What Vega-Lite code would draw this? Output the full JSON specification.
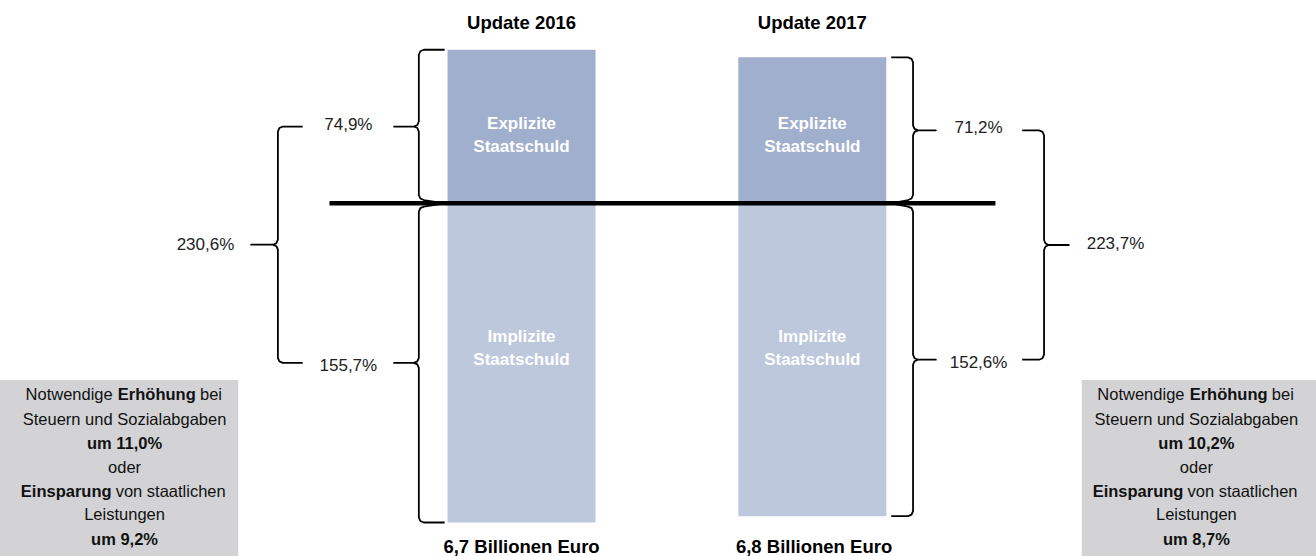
{
  "$schema": "https://vega.github.io/schema/vega-lite/v6.json",
  "width": 1316,
  "height": 556,
  "padding": 0,
  "autosize": {"type": "none"},
  "background": "white",
  "config": {"view": {"stroke": null}, "font": "Liberation Sans"},
  "datasets": {
    "bars": [
      {"year": 2016, "debt": "Explizite Staatschuld", "value": 74.9},
      {"year": 2016, "debt": "Implizite Staatschuld", "value": -155.7},
      {"year": 2017, "debt": "Explizite Staatschuld", "value": 71.2},
      {"year": 2017, "debt": "Implizite Staatschuld", "value": -152.6}
    ],
    "zeroline": [{"x": 2015.3396, "x2": 2017.6297, "y": 0}],
    "boxes": [
      {"x": 2014.2, "x2": 2015.0256, "y": -86.2, "y2": -175},
      {"x": 2017.9266, "x2": 2018.74, "y": -86.2, "y2": -175}
    ],
    "braces": [
      {"brace": "A", "i": 1, "x": 2015.7355, "y": 74.9},
      {"brace": "A", "i": 2, "x": 2015.6639, "y": 74.9},
      {"brace": "A", "i": 3, "x": 2015.6519, "y": 74.17},
      {"brace": "A", "i": 4, "x": 2015.6468, "y": 72.46},
      {"brace": "A", "i": 5, "x": 2015.6468, "y": 39.89},
      {"brace": "A", "i": 6, "x": 2015.6417, "y": 38.18},
      {"brace": "A", "i": 7, "x": 2015.6297, "y": 37.45},
      {"brace": "A", "i": 8, "x": 2015.5614, "y": 37.45},
      {"brace": "A", "i": 9, "x": 2015.6297, "y": 37.45},
      {"brace": "A", "i": 10, "x": 2015.6417, "y": 36.72},
      {"brace": "A", "i": 11, "x": 2015.6468, "y": 35.01},
      {"brace": "A", "i": 12, "x": 2015.6468, "y": 4.04},
      {"brace": "A", "i": 13, "x": 2015.6519, "y": 2.33},
      {"brace": "A", "i": 14, "x": 2015.6639, "y": 1.6},
      {"brace": "A", "i": 15, "x": 2015.7355, "y": 0},
      {"brace": "B", "i": 1, "x": 2015.7355, "y": 0},
      {"brace": "B", "i": 2, "x": 2015.6639, "y": -1.6},
      {"brace": "B", "i": 3, "x": 2015.6519, "y": -2.33},
      {"brace": "B", "i": 4, "x": 2015.6468, "y": -4.04},
      {"brace": "B", "i": 5, "x": 2015.6468, "y": -75.41},
      {"brace": "B", "i": 6, "x": 2015.6417, "y": -77.12},
      {"brace": "B", "i": 7, "x": 2015.6297, "y": -77.85},
      {"brace": "B", "i": 8, "x": 2015.5614, "y": -77.85},
      {"brace": "B", "i": 9, "x": 2015.6297, "y": -77.85},
      {"brace": "B", "i": 10, "x": 2015.6417, "y": -78.58},
      {"brace": "B", "i": 11, "x": 2015.6468, "y": -80.29},
      {"brace": "B", "i": 12, "x": 2015.6468, "y": -153.26},
      {"brace": "B", "i": 13, "x": 2015.6519, "y": -154.97},
      {"brace": "B", "i": 14, "x": 2015.6639, "y": -155.7},
      {"brace": "B", "i": 15, "x": 2015.7355, "y": -155.7},
      {"brace": "C", "i": 1, "x": 2015.2474, "y": 37.45},
      {"brace": "C", "i": 2, "x": 2015.1792, "y": 37.45},
      {"brace": "C", "i": 3, "x": 2015.1672, "y": 36.72},
      {"brace": "C", "i": 4, "x": 2015.1621, "y": 35.01},
      {"brace": "C", "i": 5, "x": 2015.1621, "y": -17.76},
      {"brace": "C", "i": 6, "x": 2015.157, "y": -19.47},
      {"brace": "C", "i": 7, "x": 2015.145, "y": -20.2},
      {"brace": "C", "i": 8, "x": 2015.07, "y": -20.2},
      {"brace": "C", "i": 9, "x": 2015.145, "y": -20.2},
      {"brace": "C", "i": 10, "x": 2015.157, "y": -20.93},
      {"brace": "C", "i": 11, "x": 2015.1621, "y": -22.64},
      {"brace": "C", "i": 12, "x": 2015.1621, "y": -75.41},
      {"brace": "C", "i": 13, "x": 2015.1672, "y": -77.12},
      {"brace": "C", "i": 14, "x": 2015.1792, "y": -77.85},
      {"brace": "C", "i": 15, "x": 2015.2474, "y": -77.85},
      {"brace": "D", "i": 1, "x": 2017.2713, "y": 71.2},
      {"brace": "D", "i": 2, "x": 2017.3293, "y": 71.2},
      {"brace": "D", "i": 3, "x": 2017.3413, "y": 70.47},
      {"brace": "D", "i": 4, "x": 2017.3464, "y": 68.76},
      {"brace": "D", "i": 5, "x": 2017.3464, "y": 38.04},
      {"brace": "D", "i": 6, "x": 2017.3515, "y": 36.33},
      {"brace": "D", "i": 7, "x": 2017.3635, "y": 35.6},
      {"brace": "D", "i": 8, "x": 2017.4249, "y": 35.6},
      {"brace": "D", "i": 9, "x": 2017.3635, "y": 35.6},
      {"brace": "D", "i": 10, "x": 2017.3515, "y": 34.87},
      {"brace": "D", "i": 11, "x": 2017.3464, "y": 33.16},
      {"brace": "D", "i": 12, "x": 2017.3464, "y": 4.04},
      {"brace": "D", "i": 13, "x": 2017.3413, "y": 2.33},
      {"brace": "D", "i": 14, "x": 2017.3293, "y": 1.6},
      {"brace": "D", "i": 15, "x": 2017.2713, "y": 0},
      {"brace": "E", "i": 1, "x": 2017.2713, "y": 0},
      {"brace": "E", "i": 2, "x": 2017.3293, "y": -1.6},
      {"brace": "E", "i": 3, "x": 2017.3413, "y": -2.33},
      {"brace": "E", "i": 4, "x": 2017.3464, "y": -4.04},
      {"brace": "E", "i": 5, "x": 2017.3464, "y": -73.86},
      {"brace": "E", "i": 6, "x": 2017.3515, "y": -75.57},
      {"brace": "E", "i": 7, "x": 2017.3635, "y": -76.3},
      {"brace": "E", "i": 8, "x": 2017.4249, "y": -76.3},
      {"brace": "E", "i": 9, "x": 2017.3635, "y": -76.3},
      {"brace": "E", "i": 10, "x": 2017.3515, "y": -77.03},
      {"brace": "E", "i": 11, "x": 2017.3464, "y": -78.74},
      {"brace": "E", "i": 12, "x": 2017.3464, "y": -150.16},
      {"brace": "E", "i": 13, "x": 2017.3413, "y": -151.87},
      {"brace": "E", "i": 14, "x": 2017.3293, "y": -152.6},
      {"brace": "E", "i": 15, "x": 2017.2713, "y": -152.6},
      {"brace": "F", "i": 1, "x": 2017.7218, "y": 35.6},
      {"brace": "F", "i": 2, "x": 2017.7798, "y": 35.6},
      {"brace": "F", "i": 3, "x": 2017.7918, "y": 34.87},
      {"brace": "F", "i": 4, "x": 2017.7969, "y": 33.16},
      {"brace": "F", "i": 5, "x": 2017.7969, "y": -17.91},
      {"brace": "F", "i": 6, "x": 2017.802, "y": -19.62},
      {"brace": "F", "i": 7, "x": 2017.814, "y": -20.35},
      {"brace": "F", "i": 8, "x": 2017.8823, "y": -20.35},
      {"brace": "F", "i": 9, "x": 2017.814, "y": -20.35},
      {"brace": "F", "i": 10, "x": 2017.802, "y": -21.08},
      {"brace": "F", "i": 11, "x": 2017.7969, "y": -22.79},
      {"brace": "F", "i": 12, "x": 2017.7969, "y": -73.86},
      {"brace": "F", "i": 13, "x": 2017.7918, "y": -75.57},
      {"brace": "F", "i": 14, "x": 2017.7798, "y": -76.3},
      {"brace": "F", "i": 15, "x": 2017.7218, "y": -76.3}
    ],
    "labels": [
      {"x": 2016, "y": 88, "text": "Update 2016", "kind": "title"},
      {"x": 2017, "y": 88, "text": "Update 2017", "kind": "title"},
      {"x": 2016, "y": -167.9, "text": "6,7 Billionen Euro", "kind": "title"},
      {"x": 2017.006, "y": -167.9, "text": "6,8 Billionen Euro", "kind": "title"},
      {"x": 2015.4044, "y": 38.2, "text": "74,9%", "kind": "pct"},
      {"x": 2015.4044, "y": -79.4, "text": "155,7%", "kind": "pct"},
      {"x": 2014.913, "y": -20.4, "text": "230,6%", "kind": "pct"},
      {"x": 2017.5717, "y": 36.7, "text": "71,2%", "kind": "pct"},
      {"x": 2017.5717, "y": -77.9, "text": "152,6%", "kind": "pct"},
      {"x": 2018.0427, "y": -19.9, "text": "223,7%", "kind": "pct"},
      {"x": 2016, "y": 38.9, "text": "Explizite\nStaatschuld", "kind": "bar"},
      {"x": 2017, "y": 38.9, "text": "Explizite\nStaatschuld", "kind": "bar"},
      {"x": 2016, "y": -65.2, "text": "Implizite\nStaatschuld", "kind": "bar"},
      {"x": 2017, "y": -65.2, "text": "Implizite\nStaatschuld", "kind": "bar"}
    ],
    "boxtext": [
      {"x": 2014.5939, "y": -93.5, "text": "Notwendige", "role": "lead"},
      {"x": 2014.7457, "y": -93.5, "text": "Erhöhung", "role": "key"},
      {"x": 2014.8942, "y": -93.5, "text": "bei", "role": "tail"},
      {"x": 2014.6348, "y": -105.7, "text": "Steuern und Sozialabgaben", "role": "line"},
      {"x": 2014.6348, "y": -117.4, "text": "um 11,0%", "role": "amount"},
      {"x": 2014.6348, "y": -129.1, "text": "oder", "role": "line"},
      {"x": 2014.4341, "y": -140.8, "text": "Einsparung", "role": "key"},
      {"x": 2014.6041, "y": -140.8, "text": "von staatlichen", "role": "tail"},
      {"x": 2014.6348, "y": -152.0, "text": "Leistungen", "role": "line"},
      {"x": 2014.6348, "y": -164.2, "text": "um 9,2%", "role": "amount"},
      {"x": 2018.2799, "y": -93.5, "text": "Notwendige", "role": "lead"},
      {"x": 2018.4317, "y": -93.5, "text": "Erhöhung", "role": "key"},
      {"x": 2018.5802, "y": -93.5, "text": "bei", "role": "tail"},
      {"x": 2018.3208, "y": -105.7, "text": "Steuern und Sozialabgaben", "role": "line"},
      {"x": 2018.3208, "y": -117.4, "text": "um 10,2%", "role": "amount"},
      {"x": 2018.3208, "y": -129.1, "text": "oder", "role": "line"},
      {"x": 2018.1201, "y": -140.8, "text": "Einsparung", "role": "key"},
      {"x": 2018.2901, "y": -140.8, "text": "von staatlichen", "role": "tail"},
      {"x": 2018.3208, "y": -152.0, "text": "Leistungen", "role": "line"},
      {"x": 2018.3208, "y": -164.2, "text": "um 8,7%", "role": "amount"}
    ]
  },
  "layer": [
    {
      "data": {"name": "boxes"},
      "mark": {"type": "rect", "color": "#D3D3D5", "clip": false},
      "encoding": {
        "x": {"field": "x", "type": "quantitative", "scale": {"domain": [2014.2236, 2018.715], "nice": false, "zero": false}, "axis": null},
        "x2": {"field": "x2"},
        "y": {"field": "y", "type": "quantitative", "scale": {"domain": [-172.05, 99.17], "nice": false, "zero": false}, "axis": null},
        "y2": {"field": "y2"}
      }
    },
    {
      "data": {"name": "bars"},
      "mark": {"type": "bar", "width": 148},
      "encoding": {
        "x": {"field": "year", "type": "quantitative", "scale": {"domain": [2014.2236, 2018.715], "nice": false, "zero": false}, "axis": null},
        "y": {"field": "value", "type": "quantitative", "scale": {"domain": [-172.05, 99.17], "nice": false, "zero": false}, "axis": null},
        "y2": {"datum": 0},
        "color": {"field": "debt", "type": "nominal", "scale": {"domain": ["Explizite Staatschuld", "Implizite Staatschuld"], "range": ["#A1AFCE", "#BDC8DD"]}, "legend": null}
      }
    },
    {
      "data": {"name": "zeroline"},
      "mark": {"type": "rule", "color": "black", "strokeWidth": 4.6},
      "encoding": {
        "x": {"field": "x", "type": "quantitative", "scale": {"domain": [2014.2236, 2018.715], "nice": false, "zero": false}, "axis": null},
        "x2": {"field": "x2"},
        "y": {"field": "y", "type": "quantitative", "scale": {"domain": [-172.05, 99.17], "nice": false, "zero": false}, "axis": null}
      }
    },
    {
      "data": {"name": "braces"},
      "mark": {"type": "line", "color": "black", "strokeWidth": 1.8, "strokeJoin": "round", "strokeCap": "butt"},
      "encoding": {
        "x": {"field": "x", "type": "quantitative", "scale": {"domain": [2014.2236, 2018.715], "nice": false, "zero": false}, "axis": null},
        "y": {"field": "y", "type": "quantitative", "scale": {"domain": [-172.05, 99.17], "nice": false, "zero": false}, "axis": null},
        "detail": {"field": "brace", "type": "nominal"},
        "order": {"field": "i", "type": "quantitative"}
      }
    },
    {
      "data": {"name": "labels"},
      "transform": [{"filter": "datum.kind === 'title'"}],
      "mark": {"type": "text", "font": "Liberation Sans", "fontWeight": "bold", "fontSize": 18.5, "color": "black", "align": "center", "baseline": "middle"},
      "encoding": {
        "x": {"field": "x", "type": "quantitative", "scale": {"domain": [2014.2236, 2018.715], "nice": false, "zero": false}, "axis": null},
        "y": {"field": "y", "type": "quantitative", "scale": {"domain": [-172.05, 99.17], "nice": false, "zero": false}, "axis": null},
        "text": {"field": "text"}
      }
    },
    {
      "data": {"name": "labels"},
      "transform": [{"filter": "datum.kind === 'pct'"}],
      "mark": {"type": "text", "font": "Liberation Sans", "fontSize": 17, "color": "#222222", "align": "center", "baseline": "middle"},
      "encoding": {
        "x": {"field": "x", "type": "quantitative", "scale": {"domain": [2014.2236, 2018.715], "nice": false, "zero": false}, "axis": null},
        "y": {"field": "y", "type": "quantitative", "scale": {"domain": [-172.05, 99.17], "nice": false, "zero": false}, "axis": null},
        "text": {"field": "text"}
      }
    },
    {
      "data": {"name": "labels"},
      "transform": [{"filter": "datum.kind === 'bar'"}],
      "mark": {"type": "text", "font": "Liberation Sans", "fontWeight": "bold", "fontSize": 17, "color": "white", "align": "center", "baseline": "middle", "lineBreak": "\n", "lineHeight": 23},
      "encoding": {
        "x": {"field": "x", "type": "quantitative", "scale": {"domain": [2014.2236, 2018.715], "nice": false, "zero": false}, "axis": null},
        "y": {"field": "y", "type": "quantitative", "scale": {"domain": [-172.05, 99.17], "nice": false, "zero": false}, "axis": null},
        "text": {"field": "text"}
      }
    },
    {
      "data": {"name": "boxtext"},
      "transform": [{"filter": "datum.role === 'line'"}],
      "mark": {"type": "text", "font": "Liberation Sans", "fontSize": 16.5, "color": "#111111", "align": "center", "baseline": "middle"},
      "encoding": {
        "x": {"field": "x", "type": "quantitative", "scale": {"domain": [2014.2236, 2018.715], "nice": false, "zero": false}, "axis": null},
        "y": {"field": "y", "type": "quantitative", "scale": {"domain": [-172.05, 99.17], "nice": false, "zero": false}, "axis": null},
        "text": {"field": "text"}
      }
    },
    {
      "data": {"name": "boxtext"},
      "transform": [{"filter": "datum.role === 'key' || datum.role === 'amount'"}],
      "mark": {"type": "text", "font": "Liberation Sans", "fontWeight": "bold", "fontSize": 16.5, "color": "#111111", "align": "center", "baseline": "middle"},
      "encoding": {
        "x": {"field": "x", "type": "quantitative", "scale": {"domain": [2014.2236, 2018.715], "nice": false, "zero": false}, "axis": null},
        "y": {"field": "y", "type": "quantitative", "scale": {"domain": [-172.05, 99.17], "nice": false, "zero": false}, "axis": null},
        "text": {"field": "text"}
      }
    },
    {
      "data": {"name": "boxtext"},
      "transform": [{"filter": "datum.role === 'lead'"}],
      "mark": {"type": "text", "font": "Liberation Sans", "fontSize": 16.5, "color": "#111111", "align": "right", "baseline": "middle"},
      "encoding": {
        "x": {"field": "x", "type": "quantitative", "scale": {"domain": [2014.2236, 2018.715], "nice": false, "zero": false}, "axis": null},
        "y": {"field": "y", "type": "quantitative", "scale": {"domain": [-172.05, 99.17], "nice": false, "zero": false}, "axis": null},
        "text": {"field": "text"}
      }
    },
    {
      "data": {"name": "boxtext"},
      "transform": [{"filter": "datum.role === 'tail'"}],
      "mark": {"type": "text", "font": "Liberation Sans", "fontSize": 16.5, "color": "#111111", "align": "left", "baseline": "middle"},
      "encoding": {
        "x": {"field": "x", "type": "quantitative", "scale": {"domain": [2014.2236, 2018.715], "nice": false, "zero": false}, "axis": null},
        "y": {"field": "y", "type": "quantitative", "scale": {"domain": [-172.05, 99.17], "nice": false, "zero": false}, "axis": null},
        "text": {"field": "text"}
      }
    }
  ]
}
